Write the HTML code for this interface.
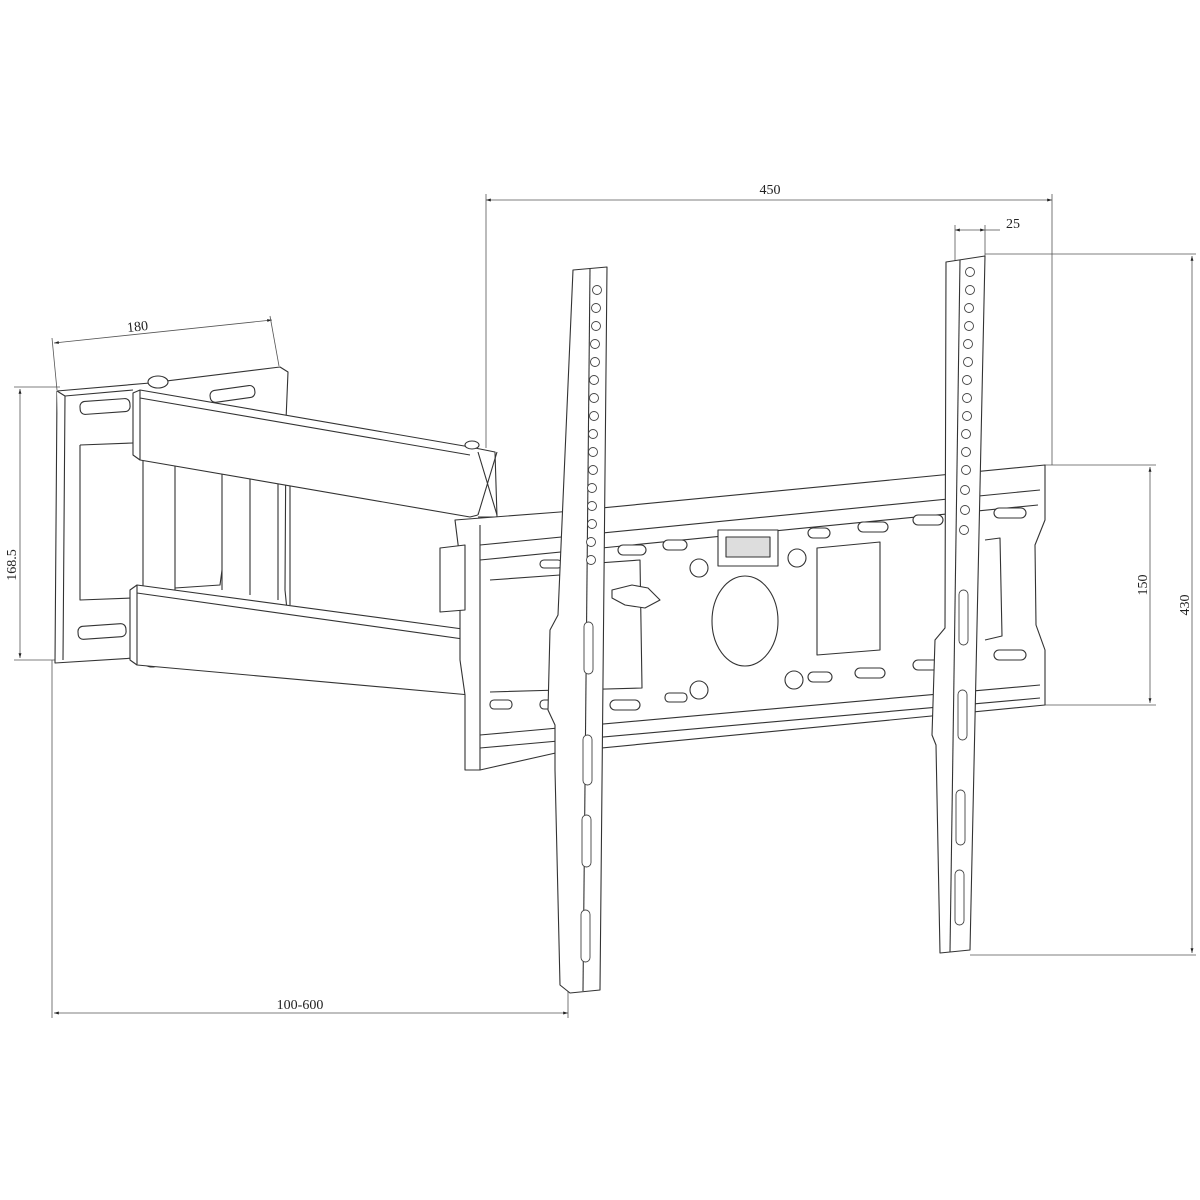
<!DOCTYPE html>
<html><head><meta charset="utf-8"><style>
html,body{margin:0;padding:0;background:#fff}
svg{display:block}
text{font-family:"Liberation Serif",serif;font-size:14px;fill:#222}
</style></head><body>
<svg width="1200" height="1200" viewBox="0 0 1200 1200" xmlns="http://www.w3.org/2000/svg">
<defs>
<marker id="a" viewBox="0 0 10 10" refX="10" refY="5" markerWidth="8" markerHeight="6" orient="auto-start-reverse"><path d="M0,2L10,5L0,8z" fill="#222"/></marker>
</defs>
<g fill="none" stroke="#555" stroke-width="0.8">
<!-- dimension lines -->
<line x1="486" y1="200" x2="1052" y2="200" marker-start="url(#a)" marker-end="url(#a)"/>
<line x1="486" y1="194" x2="486" y2="448"/>
<line x1="1052" y1="194" x2="1052" y2="465"/>
<line x1="955" y1="230" x2="985" y2="230" marker-start="url(#a)" marker-end="url(#a)"/>
<line x1="985" y1="230" x2="1000" y2="230"/>
<line x1="955" y1="225" x2="955" y2="262"/>
<line x1="985" y1="225" x2="985" y2="256"/>
<line x1="985" y1="254" x2="1196" y2="254"/>
<line x1="970" y1="955" x2="1196" y2="955"/>
<line x1="1192" y1="256" x2="1192" y2="953" marker-start="url(#a)" marker-end="url(#a)"/>
<line x1="1045" y1="465" x2="1156" y2="465"/>
<line x1="1045" y1="705" x2="1156" y2="705"/>
<line x1="1150" y1="467" x2="1150" y2="703" marker-start="url(#a)" marker-end="url(#a)"/>
<line x1="14" y1="387" x2="60" y2="387"/>
<line x1="14" y1="660" x2="60" y2="660"/>
<line x1="20" y1="389" x2="20" y2="658" marker-start="url(#a)" marker-end="url(#a)"/>
<line x1="54" y1="343" x2="272" y2="320" marker-start="url(#a)" marker-end="url(#a)"/>
<line x1="52" y1="338" x2="57" y2="390"/>
<line x1="270" y1="316" x2="279" y2="366"/>
<line x1="54" y1="1013" x2="568" y2="1013" marker-start="url(#a)" marker-end="url(#a)"/>
<line x1="52" y1="660" x2="52" y2="1018"/>
<line x1="568" y1="990" x2="568" y2="1018"/>
</g>
<text x="770" y="194" text-anchor="middle">450</text>
<text x="1013" y="228" text-anchor="middle">25</text>
<text x="138" y="331" text-anchor="middle" transform="rotate(-6 138 331)">180</text>
<text x="300" y="1009" text-anchor="middle">100-600</text>
<text transform="translate(16 565) rotate(-90)" text-anchor="middle">168.5</text>
<text transform="translate(1147 585) rotate(-90)" text-anchor="middle">150</text>
<text transform="translate(1189 605) rotate(-90)" text-anchor="middle">430</text>

<g fill="#fff" stroke="#333" stroke-width="1.1" stroke-linejoin="round">
<!-- wall plate -->
<path d="M57,391 L150,383 L280,367 L288,372 L286,420 L285,590 L290,640 L150,657 L55,663 Z"/>
<path d="M57,391 L65,396 L63,660"/>
<path d="M65,396 L133,390"/>
<rect x="80" y="400" width="50" height="13" rx="5" transform="rotate(-4 105 406)"/>
<rect x="78" y="625" width="48" height="13" rx="5" transform="rotate(-4 102 631)"/>
<path d="M80,445 L133,443 M80,445 L80,600 L133,598"/>
<rect x="210" y="388" width="45" height="12" rx="5" transform="rotate(-8 232 394)"/>
<ellipse cx="158" cy="382" rx="10" ry="6"/>
<ellipse cx="152" cy="662" rx="8" ry="5"/>
<!-- posts -->
<path d="M143,452 L143,590 M175,455 L175,590 M222,460 L222,590 M250,465 L250,595 M278,470 L278,600 M290,472 L290,605"/>
<path d="M175,588 L220,585 L222,570"/>
<!-- upper arm -->
<path d="M133,393 L140,390 L470,447 L478,450 L478,515 L470,517 L140,460 L133,455 Z"/>
<path d="M140,390 L140,460 M140,398 L470,455"/>
<path d="M470,447 L495,452 L497,517 L478,517"/>
<path d="M478,452 L497,515 M497,452 L478,515"/>
<ellipse cx="472" cy="445" rx="7" ry="4"/>
<!-- lower arm -->
<path d="M130,590 L137,585 L470,630 L470,695 L137,665 L130,660 Z"/>
<path d="M137,585 L137,665 M137,593 L470,640"/>
<!-- horizontal TV rail -->
<path d="M455,520 L560,512 L1045,465 L1045,520 L1035,545 L1036,625 L1045,650 L1045,705 L560,752 L480,770 L465,770 L465,695 L460,660 L460,560 Z"/>
<path d="M480,525 L480,770"/>
<path d="M480,545 L1040,490 M480,560 L1038,505"/>
<path d="M480,735 L1040,685 M480,748 L1040,698"/>
<path d="M440,548 L465,545 L465,610 L440,612 Z"/>
<rect x="718" y="530" width="60" height="36" fill="#fff"/>
<rect x="726" y="537" width="44" height="20" fill="#ddd"/>
<ellipse cx="745" cy="621" rx="33" ry="45"/>
<circle cx="699" cy="568" r="9"/><circle cx="797" cy="558" r="9"/>
<circle cx="699" cy="690" r="9"/><circle cx="794" cy="680" r="9"/>
<path d="M817,548 L880,542 L880,650 L817,655 Z"/>
<path d="M985,540 L1000,538 L1002,636 L985,640"/>
<path d="M570,565 L640,560 L642,688 L570,690"/>
<path d="M612,590 L632,585 L648,588 L660,600 L645,608 L625,605 L612,598 Z"/>
<path d="M490,580 L560,575 L560,690 L490,692"/>
<g>
<rect x="540" y="560" width="22" height="8" rx="4"/>
<rect x="618" y="545" width="28" height="10" rx="5"/>
<rect x="663" y="540" width="24" height="10" rx="5"/>
<rect x="808" y="528" width="22" height="10" rx="5"/>
<rect x="858" y="522" width="30" height="10" rx="5"/>
<rect x="913" y="515" width="30" height="10" rx="5"/>
<rect x="994" y="508" width="32" height="10" rx="5"/>
<rect x="540" y="700" width="22" height="9" rx="4"/>
<rect x="610" y="700" width="30" height="10" rx="5"/>
<rect x="665" y="693" width="22" height="9" rx="4"/>
<rect x="808" y="672" width="24" height="10" rx="5"/>
<rect x="855" y="668" width="30" height="10" rx="5"/>
<rect x="913" y="660" width="30" height="10" rx="5"/>
<rect x="994" y="650" width="32" height="10" rx="5"/>
<rect x="490" y="700" width="22" height="9" rx="4"/>
</g>
<!-- left vertical rail -->
<path d="M573,270 L607,267 L600,990 L570,993 L560,985 L555,770 L555,725 L548,710 L550,630 L558,615 Z"/>
<path d="M590,269 L583,991"/>
<!-- right vertical rail -->
<path d="M946,262 L985,256 L970,950 L940,953 L936,745 L932,735 L935,640 L945,628 Z"/>
<path d="M960,260 L950,952"/>
</g>
<g fill="#fff" stroke="#444" stroke-width="0.9">
<circle cx="597" cy="290" r="4.5"/><circle cx="596" cy="308" r="4.5"/><circle cx="596" cy="326" r="4.5"/><circle cx="595" cy="344" r="4.5"/><circle cx="595" cy="362" r="4.5"/><circle cx="594" cy="380" r="4.5"/><circle cx="594" cy="398" r="4.5"/><circle cx="594" cy="416" r="4.5"/><circle cx="593" cy="434" r="4.5"/><circle cx="593" cy="452" r="4.5"/><circle cx="593" cy="470" r="4.5"/><circle cx="592" cy="488" r="4.5"/><circle cx="592" cy="506" r="4.5"/><circle cx="592" cy="524" r="4.5"/><circle cx="591" cy="542" r="4.5"/><circle cx="591" cy="560" r="4.5"/>
<rect x="584" y="622" width="9" height="52" rx="4.5"/>
<rect x="583" y="735" width="9" height="50" rx="4.5"/>
<rect x="582" y="815" width="9" height="52" rx="4.5"/>
<rect x="581" y="910" width="9" height="52" rx="4.5"/>
<circle cx="970" cy="272" r="4.5"/><circle cx="970" cy="290" r="4.5"/><circle cx="969" cy="308" r="4.5"/><circle cx="969" cy="326" r="4.5"/><circle cx="968" cy="344" r="4.5"/><circle cx="968" cy="362" r="4.5"/><circle cx="967" cy="380" r="4.5"/><circle cx="967" cy="398" r="4.5"/><circle cx="967" cy="416" r="4.5"/><circle cx="966" cy="434" r="4.5"/><circle cx="966" cy="452" r="4.5"/><circle cx="966" cy="470" r="4.5"/><circle cx="965" cy="490" r="4.5"/><circle cx="965" cy="510" r="4.5"/><circle cx="964" cy="530" r="4.5"/>
<rect x="959" y="590" width="9" height="55" rx="4.5"/>
<rect x="958" y="690" width="9" height="50" rx="4.5"/>
<rect x="956" y="790" width="9" height="55" rx="4.5"/>
<rect x="955" y="870" width="9" height="55" rx="4.5"/>
</g>
</svg>
</body></html>
